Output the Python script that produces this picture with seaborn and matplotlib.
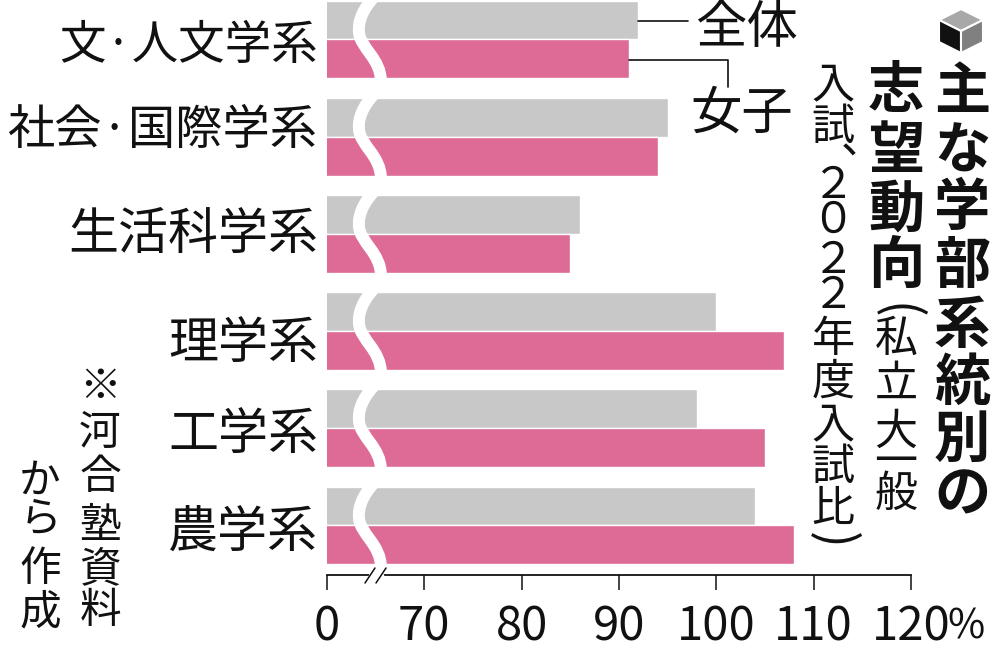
import matplotlib.pyplot as plt
import pandas as pd
import seaborn as sns
from matplotlib.patches import PathPatch, Polygon
from matplotlib.path import Path

categories = ["文·人文学系", "社会·国際学系", "生活科学系", "理学系", "工学系", "農学系"]
zentai = [92, 95, 86, 100, 98, 104]
joshi = [91, 94, 85, 107, 105, 108]
ticks = [60, 70, 80, 90, 100, 110, 120]
tick_labels = ["0", "70", "80", "90", "100", "110", "120"]

GRAY = "#c8c8c8"
PINK = "#dd6b96"
INK = "#111111"
JP = ["Noto Sans CJK JP", "DejaVu Sans"]

sns.set_theme(style="white")
plt.rcParams["font.family"] = JP

df = pd.DataFrame({
    "学部": categories * 2,
    "値": zentai + joshi,
    "区分": ["全体"] * 6 + ["女子"] * 6,
})

fig = plt.figure(figsize=(10, 6.49), dpi=100)
ax = fig.add_axes([0.327, 1 - 575 / 649, 0.584, 575 / 649])
sns.barplot(data=df, x="値", y="学部", hue="区分", palette=[GRAY, PINK],
            width=0.8, gap=0, legend=False, saturation=1, ax=ax)
ax.set_xlim(60, 120)
ax.set_ylim(5.51, -0.406)
ax.set_xlabel("")
ax.set_ylabel("")
for s in ["top", "right", "left"]:
    ax.spines[s].set_visible(False)
ax.spines["bottom"].set_linewidth(1.3)
ax.spines["bottom"].set_color(INK)
ax.set_xticks(ticks, tick_labels, fontsize=34, color=INK)
ax.tick_params(axis="x", length=10.5, width=1.1, color=INK, pad=10, bottom=True)
ax.set_yticks([])

# 波線(軸の省略)
px_x = 60 / 584
px_y = 1 / 97.2
for i in range(len(categories)):
    top = i - 0.405
    verts = [(374, -3), (362, 10), (358, 22), (359, 32), (360, 48), (381, 58), (381, 82)]
    verts = [(60 + (x - 327) * px_x, top + y * px_y) for x, y in verts]
    codes = [Path.MOVETO] + [Path.CURVE4] * 6
    ax.add_patch(PathPatch(Path(verts, codes), fc="none", ec="white", lw=8.6, capstyle="butt", zorder=5))

# 以下は画面ピクセル座標の重ね書き
ov = fig.add_axes([0, 0, 1, 1])
ov.set_xlim(0, 1000)
ov.set_ylim(649, 0)
ov.axis("off")
ov.patch.set_alpha(0)


def vtext(x, ys, s, size, weight="normal"):
    for ch, y in zip(s, ys):
        y += 3
        if ch in "()":
            ov.text(x, y, ch, fontsize=size * 1.15, ha="center", va="center",
                    rotation=-90, rotation_mode="anchor", color=INK)
        elif ch == "、":
            ov.text(x + 29, y - 14, ch, fontsize=size, ha="center", va="center", color=INK)
        else:
            ov.text(x, y, ch, fontsize=size, fontweight=weight, ha="center", va="center", color=INK)


# 学部ラベル
label_y = [46, 131, 235, 344, 435, 533]
label_size = [33.5, 34, 36, 36, 36, 36]
for name, y, fs in zip(categories, label_y, label_size):
    ov.text(318, y, name, fontsize=fs, ha="right", va="center", color=INK)

# 凡例の引き出し線
ov.plot([638, 688], [21, 21], color=INK, lw=1.2)
ov.plot([629, 728, 728], [60, 60, 87], color=INK, lw=1.2)
ov.text(746, 28, "全体", fontsize=37, ha="center", va="center", color=INK)
ov.text(742, 114, "女子", fontsize=37, ha="center", va="center", color=INK)
ov.text(966, 627, "%", fontsize=29, ha="center", va="center", color=INK)

# 軸の省略記号
ov.plot([370, 382], [575, 575], color="white", lw=2.5, zorder=3)
ov.plot([365, 375], [583, 568], color=INK, lw=1.1, zorder=4)
ov.plot([376, 386], [583, 568], color=INK, lw=1.1, zorder=4)

# 見出し
vtext(962, [89, 149, 205, 263, 323, 380, 437, 492], "主な学部系統別の", 40.5, "bold")
vtext(896, [88, 148, 207, 263], "志望動向", 40.5, "bold")
vtext(896, [308, 337, 382, 430, 460, 492], "(私立大一般", 31)
vtext(833, [82, 125, 153, 183, 218, 258, 293, 337, 380, 422, 465, 507, 537],
      "入試、２０２２年度入試比)", 31)

# 出典
vtext(100, [384, 430, 475, 523, 567, 608], "※河合塾資料", 30)
vtext(40, [478, 517, 567, 610], "から作成", 30)

# ロゴ
cx, cy, r = 961, 31, 22
ov.add_patch(Polygon([(cx, cy - r), (cx + r, cy - r / 2), (cx, cy), (cx - r, cy - r / 2)], fc="#a8a8a8", ec="white", lw=1.5))
ov.add_patch(Polygon([(cx - r, cy - r / 2), (cx, cy), (cx, cy + r), (cx - r, cy + r / 2)], fc=INK, ec="white", lw=1.5))
ov.add_patch(Polygon([(cx + r, cy - r / 2), (cx, cy), (cx, cy + r), (cx + r, cy + r / 2)], fc="#808080", ec="white", lw=1.5))

fig.savefig("out.png", dpi=100)
